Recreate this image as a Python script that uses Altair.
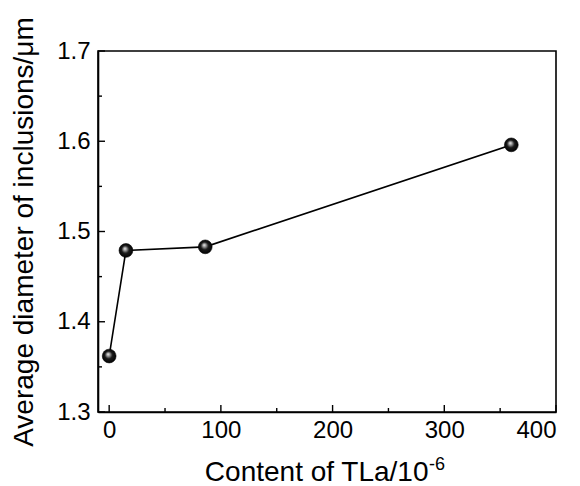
import altair as alt
import pandas as pd

# data
content = [0, 15, 86, 360]
diameter = [1.362, 1.479, 1.483, 1.596]
x_major = [0, 100, 200, 300, 400]
x_minor = [50, 150, 250, 350]
y_major = [1.3, 1.4, 1.5, 1.6, 1.7]
y_minor = [1.35, 1.45, 1.55, 1.65]
x_title = "Content of TLa/10"
x_title_sup = ["-6"]
y_title = "Average diameter of inclusions/μm"

W, H = 458, 361
FONT = "Liberation Sans"

xscale = alt.Scale(domain=[-10, 400], nice=False, zero=False)
yscale = alt.Scale(domain=[1.3, 1.7], nice=False, zero=False)

df = pd.DataFrame({"c": content, "d": diameter})

xaxis = alt.Axis(
    values=x_major, format="d", ticks=False, grid=False,
    labelFont=FONT, labelFontSize=24, labelColor="black", labelPadding=6,
    domainColor="black", domainWidth=1.6,
    title=x_title, titleFont=FONT, titleFontSize=28,
    titleFontWeight="normal", titleColor="black",
    titleBaseline="alphabetic", titleY=68, titleX=330, titleAlign="right",
)
yaxis = alt.Axis(
    values=y_major, format=".1f", ticks=False, grid=False,
    labelFont=FONT, labelFontSize=24, labelColor="black", labelPadding=8,
    domainColor="black", domainWidth=1.6,
    title=y_title, titleFont=FONT, titleFontSize=28,
    titleFontWeight="normal", titleColor="black",
    titleAngle=270, titleBaseline="alphabetic", titleX=-66, titleY=H / 2,
    titleAlign="center",
)

sphere = alt.RadialGradient(
    gradient="radial",
    stops=[
        alt.GradientStop(offset=0, color="#f4f4f4"),
        alt.GradientStop(offset=0.22, color="#9a9a9a"),
        alt.GradientStop(offset=0.5, color="#1a1a1a"),
        alt.GradientStop(offset=1, color="#000000"),
    ],
    x1=0.42, y1=0.36, r1=0, x2=0.5, y2=0.5, r2=0.55,
)

line = alt.Chart(df).mark_line(color="black", strokeWidth=1.6).encode(
    x=alt.X("c:Q", scale=xscale, axis=xaxis),
    y=alt.Y("d:Q", scale=yscale, axis=yaxis),
)
points = alt.Chart(df).mark_point(
    filled=True, fill=sphere, opacity=1, size=190, shape="circle",
    stroke="#000000", strokeWidth=0.6,
).encode(
    x=alt.X("c:Q", scale=xscale, axis=xaxis),
    y=alt.Y("d:Q", scale=yscale, axis=yaxis),
)

def xticks(vals, length):
    return alt.Chart(pd.DataFrame({"v": vals})).mark_rule(
        color="black", strokeWidth=1.4
    ).encode(
        x=alt.X("v:Q", scale=xscale, axis=xaxis),
        y=alt.value(H), y2=alt.value(H - length),
    )

def yticks(vals, length):
    return alt.Chart(pd.DataFrame({"v": vals})).mark_rule(
        color="black", strokeWidth=1.4
    ).encode(
        y=alt.Y("v:Q", scale=yscale, axis=yaxis),
        x=alt.value(0), x2=alt.value(length),
    )

sup = alt.Chart(pd.DataFrame({"s": x_title_sup})).mark_text(
    font=FONT, fontSize=18, color="black", align="left", baseline="alphabetic"
).encode(
    text="s:N", x=alt.value(331), y=alt.value(H + 58),
)

chart = alt.layer(
    line, points,
    xticks(x_major, 7), xticks(x_minor, 4),
    yticks(y_major, 7), yticks(y_minor, 4),
    sup,
).properties(
    width=W, height=H,
    autosize=alt.AutoSizeParams(type="none"),
    padding={"left": 98, "top": 51, "right": 24, "bottom": 74},
    background="white",
).configure_view(stroke="black", strokeWidth=1.6)

chart.save("out.html", embed_options={"renderer": "svg", "actions": False})
